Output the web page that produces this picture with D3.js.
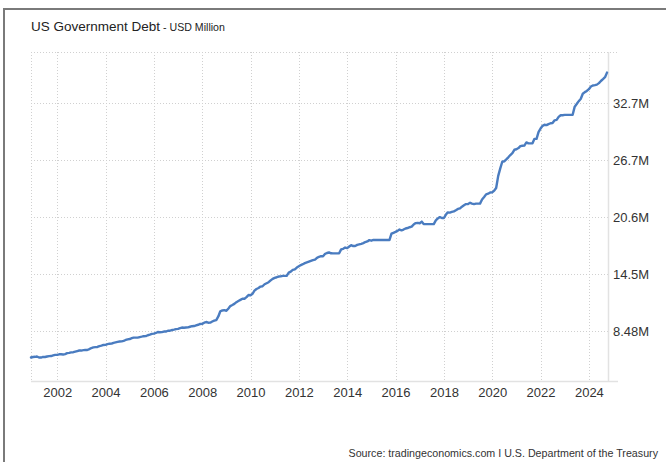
<!DOCTYPE html>
<html>
<head>
<meta charset="utf-8">
<script src="https://cdn.jsdelivr.net/npm/d3@7"></script>
<style>
  html, body { margin: 0; padding: 0; background: #fff; }
  svg { display: block; font-family: "Liberation Sans", Arial, Helvetica, sans-serif; }
</style>
</head>
<body>
<svg id="chart" width="666" height="462"></svg>
<script>
// Total public debt outstanding, end of month, in millions of USD Million (M)
const startMonth = "2000-12";
const debtM = [
  5.662,
  5.716, 5.735, 5.774, 5.661, 5.657, 5.727, 5.718, 5.770, 5.807, 5.815, 5.888, 5.943,
  5.937, 6.004, 6.006, 5.985, 6.019, 6.126, 6.159, 6.210, 6.228, 6.283, 6.343, 6.405,
  6.401, 6.445, 6.460, 6.460, 6.558, 6.670, 6.737, 6.760, 6.783, 6.872, 6.925, 6.998,
  7.008, 7.086, 7.131, 7.135, 7.222, 7.274, 7.326, 7.364, 7.379, 7.430, 7.525, 7.596,
  7.628, 7.714, 7.777, 7.771, 7.776, 7.836, 7.878, 7.927, 7.933, 8.027, 8.092, 8.170,
  8.196, 8.270, 8.371, 8.354, 8.362, 8.420, 8.420, 8.507, 8.507, 8.584, 8.628, 8.680,
  8.707, 8.790, 8.849, 8.830, 8.850, 8.867, 8.932, 8.989, 9.008, 9.079, 9.143, 9.229,
  9.238, 9.358, 9.437, 9.361, 9.366, 9.492, 9.585, 9.645, 10.025, 10.574, 10.661, 10.700,
  10.632, 10.880, 11.127, 11.239, 11.360, 11.545, 11.668, 11.786, 11.910, 11.906, 12.079, 12.311,
  12.278, 12.439, 12.773, 12.948, 13.050, 13.201, 13.236, 13.450, 13.561, 13.667, 13.861, 14.025,
  14.131, 14.195, 14.270, 14.290, 14.344, 14.343, 14.342, 14.683, 14.790, 14.974, 15.031, 15.223,
  15.356, 15.488, 15.582, 15.692, 15.771, 15.856, 15.934, 16.016, 16.066, 16.262, 16.370, 16.433,
  16.434, 16.687, 16.771, 16.829, 16.739, 16.738, 16.738, 16.738, 16.738, 17.156, 17.217, 17.352,
  17.293, 17.464, 17.601, 17.509, 17.517, 17.632, 17.688, 17.749, 17.824, 17.937, 18.005, 18.141,
  18.082, 18.156, 18.152, 18.152, 18.153, 18.152, 18.151, 18.151, 18.151, 18.153, 18.827, 18.922,
  19.013, 19.125, 19.264, 19.187, 19.265, 19.382, 19.427, 19.511, 19.573, 19.805, 19.949, 19.977,
  19.937, 20.108, 19.846, 19.846, 19.845, 19.845, 19.845, 19.845, 20.245, 20.442, 20.590, 20.493,
  20.494, 20.856, 21.090, 21.069, 21.145, 21.195, 21.313, 21.458, 21.516, 21.702, 21.850, 21.974,
  21.982, 22.115, 22.028, 21.975, 22.027, 22.023, 22.022, 22.462, 22.719, 23.008, 23.076, 23.201,
  23.223, 23.410, 23.686, 24.974, 25.746, 26.477, 26.525, 26.729, 26.945, 27.185, 27.393, 27.748,
  27.805, 27.932, 28.133, 28.174, 28.193, 28.529, 28.428, 28.428, 28.434, 28.908, 28.908, 29.617,
  30.009, 30.290, 30.401, 30.374, 30.481, 30.568, 30.590, 30.877, 30.928, 31.238, 31.413, 31.420,
  31.454, 31.459, 31.458, 31.458, 31.465, 32.332, 32.608, 32.914, 33.167, 33.700, 33.875, 34.001,
  34.193, 34.474, 34.586, 34.617, 34.674, 34.832, 35.059, 35.256, 35.465, 35.950
];
const yTickValues = [8.48, 14.54, 20.60, 26.66, 32.72];
const yTickLabels = ["8.48M", "14.5M", "20.6M", "26.7M", "32.7M"];
const xTickYears = [2002, 2004, 2006, 2008, 2010, 2012, 2014, 2016, 2018, 2020, 2022, 2024];

const parseMonth = d3.timeParse("%Y-%m");
const t0 = parseMonth(startMonth);
const series = debtM.map((v, i) => ({ date: d3.timeMonth.offset(t0, i), value: v }));

const svg = d3.select("#chart");
const plot = { left: 31, right: 608, top: 52, bottom: 381 };

const x = d3.scaleTime()
  .domain([t0, d3.timeMonth.offset(t0, 286)])
  .range([plot.left, plot.left + 576]);
const y = d3.scaleLinear()
  .domain([8.48 - 50 / 9.406, 32.72 + 51 / 9.406])
  .range([plot.bottom, plot.top]);

// Outer frame (top and left edges)
svg.append("line").attr("x1", 3).attr("x2", 666).attr("y1", 9).attr("y2", 9)
  .attr("stroke", "#7a7a7a").attr("stroke-width", 2);
svg.append("line").attr("x1", 4).attr("x2", 4).attr("y1", 8).attr("y2", 462)
  .attr("stroke", "#7a7a7a").attr("stroke-width", 2);

// Title
const title = svg.append("text").attr("x", 31).attr("y", 31).attr("fill", "#222");
title.append("tspan").attr("font-size", 13.5).text("US Government Debt");
title.append("tspan").attr("font-size", 10.6).attr("dx", 3).text("- USD Million");

// Gridlines
const grid = svg.append("g").attr("stroke", "#d0d0d0").attr("stroke-width", 1)
  .attr("stroke-dasharray", "1,2").attr("shape-rendering", "crispEdges");
grid.selectAll("line.h").data(yTickValues).join("line").attr("class", "h")
  .attr("x1", plot.left).attr("x2", plot.right)
  .attr("y1", d => Math.round(y(d)) + 0.5).attr("y2", d => Math.round(y(d)) + 0.5);
grid.selectAll("line.v").data(xTickYears).join("line").attr("class", "v")
  .attr("x1", d => Math.round(x(new Date(d, 0, 1))) + 0.5)
  .attr("x2", d => Math.round(x(new Date(d, 0, 1))) + 0.5)
  .attr("y1", plot.top).attr("y2", plot.bottom);
grid.append("line").attr("x1", plot.left).attr("x2", 618)
  .attr("y1", plot.top + 0.5).attr("y2", plot.top + 0.5);
grid.append("line").attr("x1", plot.left + 0.5).attr("x2", plot.left + 0.5)
  .attr("y1", plot.top).attr("y2", plot.bottom);

// Right border and baseline
svg.append("line").attr("x1", plot.right + 0.5).attr("x2", plot.right + 0.5)
  .attr("y1", plot.top).attr("y2", plot.bottom)
  .attr("stroke", "#e2e2e2").attr("stroke-width", 1.5);
svg.append("line").attr("x1", plot.left).attr("x2", 618)
  .attr("y1", plot.bottom + 0.5).attr("y2", plot.bottom + 0.5)
  .attr("stroke", "#e2e2e2").attr("stroke-width", 1.5);

// Axes (labels only)
const yAxis = d3.axisRight(y).tickValues(yTickValues)
  .tickFormat((d, i) => yTickLabels[i]).tickSize(0).tickPadding(5);
const gy = svg.append("g").attr("transform", `translate(${plot.right},0)`).call(yAxis);
gy.select(".domain").remove();
gy.selectAll("text").attr("font-size", 13).attr("fill", "#333")
  .attr("font-family", "Liberation Sans, Arial, sans-serif");

const xAxis = d3.axisBottom(x).tickValues(xTickYears.map(yr => new Date(yr, 0, 1)))
  .tickFormat(d3.timeFormat("%Y")).tickSize(0).tickPadding(7);
const gx = svg.append("g").attr("transform", `translate(0,${plot.bottom})`).call(xAxis);
gx.select(".domain").remove();
gx.selectAll("text").attr("font-size", 13).attr("fill", "#333")
  .attr("font-family", "Liberation Sans, Arial, sans-serif");

// Debt line
svg.append("path").datum(series)
  .attr("fill", "none").attr("stroke", "#4a7cc0").attr("stroke-width", 2.4)
  .attr("stroke-linejoin", "round").attr("stroke-linecap", "round")
  .attr("d", d3.line().x(d => x(d.date)).y(d => y(d.value)));

// Source note
svg.append("text").attr("x", 658).attr("y", 457).attr("text-anchor", "end")
  .attr("font-size", 10.7).attr("fill", "#333")
  .text("Source: tradingeconomics.com I U.S. Department of the Treasury");
</script>
</body>
</html>
